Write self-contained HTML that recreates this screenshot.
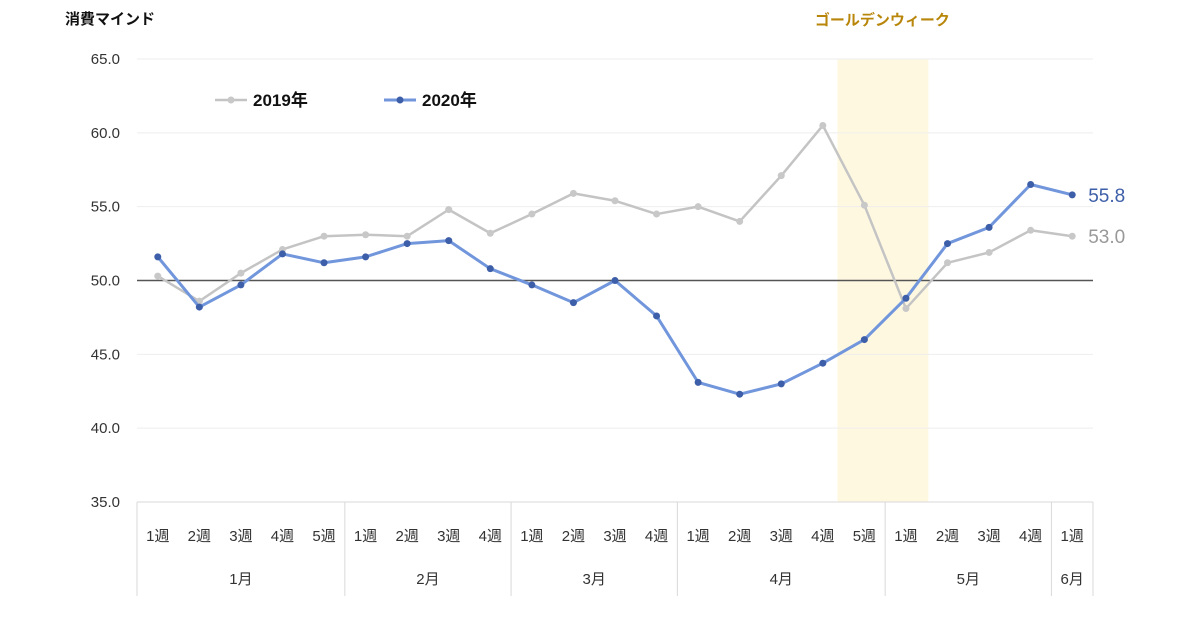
<!DOCTYPE html>
<html><head><meta charset="utf-8"><style>
html,body{margin:0;padding:0;background:#fff;width:1200px;height:630px;overflow:hidden}
text{font-family:"Liberation Sans","Noto Sans CJK JP",sans-serif}
</style></head><body>
<svg id="chart" width="1200" height="630" xmlns="http://www.w3.org/2000/svg"></svg>
<script>
const weeks=["1週","2週","3週","4週","5週","1週","2週","3週","4週","1週","2週","3週","4週","1週","2週","3週","4週","5週","1週","2週","3週","4週","1週"];
const months=["1月","2月","3月","4月","5月","6月"];
const monthSizes=[5,4,4,5,4,1];
const series2019=[50.3,48.6,50.5,52.1,53.0,53.1,53.0,54.8,53.2,54.5,55.9,55.4,54.5,55.0,54.0,57.1,60.5,55.1,48.1,51.2,51.9,53.4,53.0];
const series2020=[51.6,48.2,49.7,51.8,51.2,51.6,52.5,52.7,50.8,49.7,48.5,50.0,47.6,43.1,42.3,43.0,44.4,46.0,48.8,52.5,53.6,56.5,55.8];
const yTicks=[35,40,45,50,55,60,65];
const svg=document.getElementById('chart');
const NS='http://www.w3.org/2000/svg';
const L=137,R=1093,T=59,B=502,ymin=35,ymax=65;
const bw=(R-L)/weeks.length;
const x=i=>L+(i+0.5)*bw;
const y=v=>B-(v-ymin)/(ymax-ymin)*(B-T);
function mk(tag,a,txt){const e=document.createElementNS(NS,tag);for(const k in a)e.setAttribute(k,a[k]);if(txt!==undefined)e.textContent=txt;svg.appendChild(e);return e;}
// GW band
let gw=mk('rect',{x:x(17)-27,y:T,width:91,height:B-T,fill:'#fff8e1'});


let gwt=mk('text',{x:x(17)+18,y:25,'text-anchor':'middle','font-size':15,'font-weight':'bold',fill:'#b8860b'},'ゴールデンウィーク');


// grid
yTicks.forEach(v=>{
 if(v!==50&&v!==35){let g=mk('line',{x1:L,x2:R,y1:y(v),y2:y(v),stroke:'#eeeeee','stroke-width':1});
 
 }
 let t=mk('text',{x:120,y:y(v)+5,'text-anchor':'end','font-size':15,fill:'#333'},v.toFixed(1));
 
 
});
let ax=mk('line',{x1:L,x2:R,y1:B,y2:B,stroke:'#d9d9d9','stroke-width':1});


let base=mk('line',{x1:L,x2:R,y1:y(50),y2:y(50),stroke:'#555','stroke-width':1.5});


// x labels
weeks.forEach((w,i)=>{let t=mk('text',{x:x(i),y:541,'text-anchor':'middle','font-size':15,fill:'#333'},w);
 
 });
let acc=0;
const sep=i=>{let s=mk('line',{x1:L+i*bw,x2:L+i*bw,y1:B,y2:596,stroke:'#d9d9d9','stroke-width':1});
 
 };
sep(0);
months.forEach((m,k)=>{const c=L+(acc+monthSizes[k]/2)*bw;
 let t=mk('text',{x:c,y:584,'text-anchor':'middle','font-size':15,fill:'#333'},m);
 
 
 acc+=monthSizes[k];sep(acc);});
// series
function draw(data,lc,mc,name){
 let p=mk('polyline',{points:data.map((v,i)=>x(i)+','+y(v)).join(' '),fill:'none',stroke:lc,'stroke-width':name==='2020'?3:2.5,'stroke-linejoin':'round'});
 
 
 data.forEach((v,i)=>{let c=mk('circle',{cx:x(i),cy:y(v),r:3.5,fill:mc});
 
 });
}
draw(series2019,'#c4c4c4','#c8c8c8','2019');
draw(series2020,'#7196dc','#3d5ea8','2020');
const n=weeks.length-1;
let e1=mk('text',{x:x(n)+16,y:y(series2020[n])+7,'font-size':19,fill:'#3d5ea8'},series2020[n].toFixed(1));


let e2=mk('text',{x:x(n)+16,y:y(series2019[n])+7,'font-size':19,fill:'#999'},series2019[n].toFixed(1));


// legend
let l1=mk('line',{x1:215,x2:247,y1:100,y2:100,stroke:'#c4c4c4','stroke-width':2.5});


mk('circle',{cx:231,cy:100,r:3.5,fill:'#c8c8c8'});
let lt1=mk('text',{x:253,y:106,'font-size':17,'font-weight':'bold',fill:'#111'},'2019年');


let l2=mk('line',{x1:384,x2:416,y1:100,y2:100,stroke:'#7196dc','stroke-width':3});


mk('circle',{cx:400,cy:100,r:3.5,fill:'#3d5ea8'});
let lt2=mk('text',{x:422,y:106,'font-size':17,'font-weight':'bold',fill:'#111'},'2020年');


let ti=mk('text',{x:65,y:24,'font-size':15,'font-weight':'bold',fill:'#111'},'消費マインド');


</script>
</body></html>
